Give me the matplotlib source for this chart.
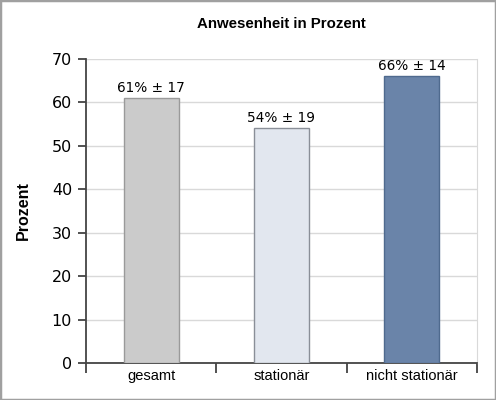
import matplotlib
matplotlib.use("Agg")
import matplotlib.pyplot as plt
from matplotlib.patches import Rectangle

categories = ["gesamt", "stationär", "nicht stationär"]
values = [61, 54, 66]
sds = [17, 19, 14]
labels = [f"{v}% ± {s}" for v, s in zip(values, sds)]
yticks = [0, 10, 20, 30, 40, 50, 60, 70]
colors = ["#cbcbcb", "#e2e7ef", "#6a84a9"]
edges = ["#9a9a9a", "#8a8f98", "#4f6a8e"]

narrow = ["Liberation Sans", "DejaVu Sans"]

fig = plt.figure(figsize=(4.96, 4.0), dpi=100)
fig.patches.append(Rectangle((0, 0), 1, 1, transform=fig.transFigure,
                             fill=False, edgecolor="#a0a0a0", linewidth=2.5))
ax = fig.add_axes([0.1734, 0.0925, 0.788, 0.76])
x = range(len(categories))
ax.bar(x, values, width=0.42, color=colors, edgecolor=edges, linewidth=1.0, zorder=3)
for i, (v, lab) in enumerate(zip(values, labels)):
    ax.text(i, v + 0.8, lab, ha="center", va="bottom", fontsize=9.8,
            family="DejaVu Sans", zorder=4)

ax.set_xlim(-0.5, 2.5)
ax.set_ylim(0, 70)
ax.set_yticks(yticks)
ax.set_yticklabels([str(t) for t in yticks], fontsize=11.5, family="DejaVu Sans")
ax.grid(axis="y", color="#d9d9d9", linewidth=1.0, zorder=0)
ax.set_xticks([-0.5, 0.5, 1.5, 2.5])
ax.set_xticklabels([])
ax.set_xticks([0, 1, 2], minor=True)
ax.set_xticklabels(categories, minor=True, fontsize=10.5, family=narrow)
ax.tick_params(axis="x", which="minor", length=0, pad=4)
ax.tick_params(axis="x", which="major", length=7, width=1.2, color="#333333", direction="out")
ax.tick_params(axis="y", length=6, width=1.2, color="#333333", pad=4)
for s in ["left", "bottom"]:
    ax.spines[s].set_color("#444444")
    ax.spines[s].set_linewidth(1.3)
ax.spines["right"].set_color("#d9d9d9")
ax.spines["top"].set_visible(False)

ax.set_ylabel("Prozent", fontsize=11.5, fontweight="bold", family=narrow)
ax.yaxis.set_label_coords(-0.141, 0.5)
fig.text(0.567, 0.94, "Anwesenheit in Prozent", ha="center", va="center",
         fontsize=10.8, fontweight="bold", family=narrow)
fig.savefig("out.png", dpi=100)
